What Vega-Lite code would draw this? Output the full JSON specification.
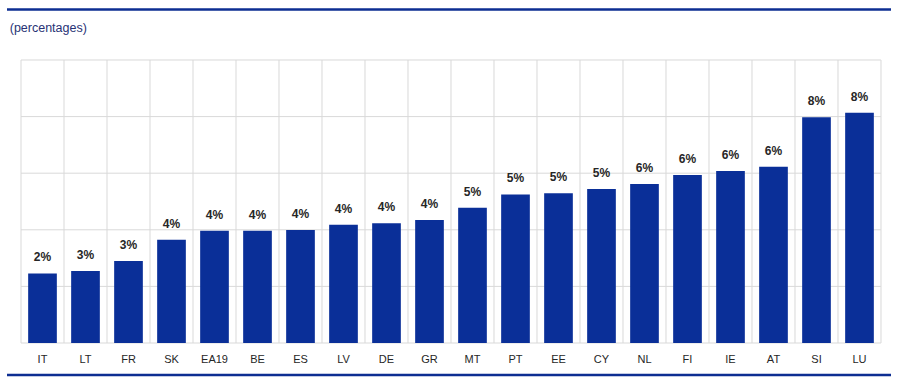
{
  "$schema": "https://vega.github.io/schema/vega-lite/v6.json",
  "width": 884,
  "height": 366,
  "autosize": {"type": "none"},
  "padding": {"left": 7, "top": 9, "right": 9, "bottom": 13},
  "background": "#ffffff",
  "config": {"view": {"stroke": null}},
  "data": {
    "values": [
      {"c": "IT", "v": 2.46, "lbl": "2%"},
      {"c": "LT", "v": 2.54, "lbl": "3%"},
      {"c": "FR", "v": 2.90, "lbl": "3%"},
      {"c": "SK", "v": 3.65, "lbl": "4%"},
      {"c": "EA19", "v": 3.97, "lbl": "4%"},
      {"c": "BE", "v": 3.97, "lbl": "4%"},
      {"c": "ES", "v": 3.99, "lbl": "4%"},
      {"c": "LV", "v": 4.18, "lbl": "4%"},
      {"c": "DE", "v": 4.23, "lbl": "4%"},
      {"c": "GR", "v": 4.35, "lbl": "4%"},
      {"c": "MT", "v": 4.78, "lbl": "5%"},
      {"c": "PT", "v": 5.25, "lbl": "5%"},
      {"c": "EE", "v": 5.29, "lbl": "5%"},
      {"c": "CY", "v": 5.44, "lbl": "5%"},
      {"c": "NL", "v": 5.62, "lbl": "6%"},
      {"c": "FI", "v": 5.94, "lbl": "6%"},
      {"c": "IE", "v": 6.08, "lbl": "6%"},
      {"c": "AT", "v": 6.23, "lbl": "6%"},
      {"c": "SI", "v": 7.98, "lbl": "8%"},
      {"c": "LU", "v": 8.14, "lbl": "8%"}
    ]
  },
  "resolve": {"scale": {"x": "shared", "y": "shared"}},
  "layer": [
    {
      "mark": {"type": "rule", "color": "#d9d9d9", "strokeWidth": 1},
      "encoding": {
        "x": {
          "field": "c", "type": "nominal", "bandPosition": 0,
          "scale": {
            "domain": ["IT","LT","FR","SK","EA19","BE","ES","LV","DE","GR","MT","PT","EE","CY","NL","FI","IE","AT","SI","LU"],
            "paddingInner": 0, "paddingOuter": 0.2791, "align": 0.5833
          },
          "axis": {
            "orient": "bottom", "offset": -32, "title": null, "domain": false, "ticks": false, "tickSize": 0,
            "grid": false, "labelPadding": 10, "labelAngle": 0, "labelFont": "Liberation Sans",
            "labelFontSize": 11, "labelColor": "#262626", "labelBaseline": "top"
          }
        },
        "y": {"datum": 0, "type": "quantitative", "scale": {"domain": [-1.1307, 11.802], "nice": false, "zero": false}, "axis": null},
        "y2": {"datum": 10}
      }
    },
    {
      "data": {"values": [{}]},
      "mark": {"type": "rule", "color": "#d9d9d9", "strokeWidth": 1},
      "encoding": {
        "x": {"datum": "LU", "type": "nominal", "bandPosition": 1},
        "y": {"datum": 0, "type": "quantitative"},
        "y2": {"datum": 10}
      }
    },
    {
      "data": {"values": [{"g": 0}, {"g": 2}, {"g": 4}, {"g": 6}, {"g": 8}, {"g": 10}]},
      "mark": {"type": "rule", "color": "#d9d9d9", "strokeWidth": 1},
      "encoding": {
        "x": {"datum": "IT", "type": "nominal", "bandPosition": 0},
        "x2": {"datum": "LU", "bandPosition": 1},
        "y": {"field": "g", "type": "quantitative"}
      }
    },
    {
      "mark": {"type": "bar", "color": "#0a2f98", "width": {"band": 0.667}},
      "encoding": {
        "x": {"field": "c", "type": "nominal"},
        "y": {"field": "v", "type": "quantitative"},
        "y2": {"datum": 0}
      }
    },
    {
      "mark": {"type": "text", "font": "Liberation Sans", "fontSize": 12, "fontWeight": "bold", "color": "#262626", "baseline": "alphabetic", "dy": -12},
      "encoding": {
        "x": {"field": "c", "type": "nominal"},
        "y": {"field": "v", "type": "quantitative"},
        "text": {"field": "lbl"}
      }
    },
    {
      "data": {"values": [{"t": "(percentages)"}]},
      "mark": {"type": "text", "font": "Liberation Sans", "fontSize": 12.5, "color": "#283275", "align": "left", "baseline": "alphabetic"},
      "encoding": {
        "x": {"datum": "IT", "type": "nominal", "bandPosition": -0.262},
        "y": {"datum": 10.975, "type": "quantitative"},
        "text": {"field": "t"}
      }
    },
    {
      "data": {"values": [{}]},
      "mark": {"type": "rule", "color": "#0d2e92", "strokeWidth": 2.5},
      "encoding": {"y": {"datum": 11.784, "type": "quantitative"}}
    },
    {
      "data": {"values": [{}]},
      "mark": {"type": "rule", "color": "#0d2e92", "strokeWidth": 2.5},
      "encoding": {"y": {"datum": -1.1307, "type": "quantitative"}}
    }
  ]
}
